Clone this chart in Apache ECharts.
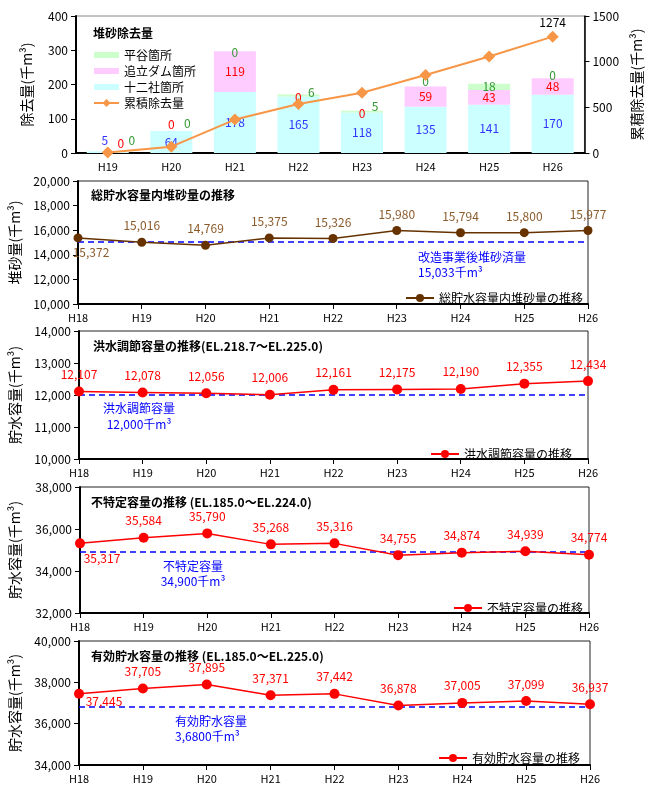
<!DOCTYPE html>
<html><head><meta charset="utf-8">
<script src="https://cdn.jsdelivr.net/npm/echarts@6/dist/echarts.min.js"></script>
<style>html,body{margin:0;padding:0;background:#fff}#c{width:652px;height:795px}</style>
</head><body><div id="c"></div>
<script>
// ---- data ----
const barYears = ['H19','H20','H21','H22','H23','H24','H25','H26'];
const juniso = [5,64,178,165,118,135,141,170];      // 十二社箇所
const oidachi = [0,0,119,0,0,59,43,48];             // 追立ダム箇所
const hiratani = [0,0,0,6,5,0,18,0];                // 平谷箇所
const cumulative = [5,69,366,537,660,854,1056,1274];// 累積除去量
const years = ['H18','H19','H20','H21','H22','H23','H24','H25','H26'];
const sediment = [15372,15016,14769,15375,15326,15980,15794,15800,15977];
const floodCap = [12107,12078,12056,12006,12161,12175,12190,12355,12434];
const unspecCap = [35317,35584,35790,35268,35316,34755,34874,34939,34774];
const effectiveCap = [37445,37705,37895,37371,37442,36878,37005,37099,36937];
const refValues = [15033, 12000, 34900, 36800];
const axisRanges = [[0,400,100],[0,1500,500],[10000,20000,2000],[10000,14000,1000],[32000,38000,2000],[34000,40000,2000]];

const JP = '"Noto Sans CJK JP", "Noto Sans", sans-serif';
const fmt = v => Number(v).toLocaleString('en-US');
const chart = echarts.init(document.getElementById('c'));

// label styling per bar item (style only)
const pinkLab = [{position:'top',offset:[13,3]},{position:'top',offset:[0,4]},null,{position:'top',offset:[0,12]},{position:'top',offset:[0,12]},null,null,null];
const greenLab = [{position:'top',offset:[24,0]},{position:'top',offset:[16,3]},{position:'top',offset:[0,12]},{position:'top',offset:[13,9]},{position:'top',offset:[13,7]},{position:'top',offset:[0,6]},null,{position:'top',offset:[0,8]}];
const cyanLab = [{position:'top',offset:[-3,0]},null,null,null,null,null,null,null];
function items(vals, labs){ return vals.map((v,i)=> labs[i] ? {value:v, label:labs[i]} : v); }

const grids = [
  {left:76, top:16, width:512, height:137},
  {left:74, top:181, width:514, height:123},
  {left:76, top:331, width:512, height:128},
  {left:74, top:487, width:515, height:126},
  {left:73, top:641, width:517, height:124}
];
grids.forEach((g,i)=>{ g.show=true; g.borderColor = i===0 ? '#888' : '#222'; g.borderWidth=1; });

const axisLab = {color:'#000', fontSize:11, fontFamily:JP};
const xAxes = [{gridIndex:0, type:'category', data:barYears, boundaryGap:true,
  axisLine:{lineStyle:{color:'#000',width:2}}, axisTick:{lineStyle:{color:'#000'}}, axisLabel:axisLab}];
for (let i=1;i<5;i++) xAxes.push({gridIndex:i, type:'category', data:years, boundaryGap:false,
  axisLine:{lineStyle:{color:'#000',width:2}}, axisTick:{alignWithLabel:true,lineStyle:{color:'#000'}}, axisLabel:axisLab});

function yAx(grid, r, name, gap, pos){
  return {gridIndex:grid, type:'value', min:r[0], max:r[1], interval:r[2], position:pos||'left',
    axisLine:{show:true, lineStyle:{color:'#000', width:2}}, axisTick:{show:true, lineStyle:{color:'#000'}},
    splitLine:{show:false},
    axisLabel:{color:'#000', fontSize:12, fontFamily:JP, formatter: v=> r[1]>=10000 ? fmt(v) : String(v)},
    name:name, nameLocation:'middle', nameRotate:90, nameGap:gap,
    nameTextStyle:{color:'#000', fontSize:14, fontFamily:JP}};
}
const yAxes = [
  yAx(0, axisRanges[0], '除去量(千m³)', 42),
  yAx(0, axisRanges[1], '累積除去量(千m³)', 40, 'right'),
  yAx(1, axisRanges[2], '堆砂量(千m³)', 56),
  yAx(2, axisRanges[3], '貯水容量(千m³)', 57),
  yAx(3, axisRanges[4], '貯水容量(千m³)', 58),
  yAx(4, axisRanges[5], '貯水容量(千m³)', 57)
];
yAxes[1].axisLine.lineStyle.width = 1.5;

function refLine(v){
  return {silent:true, symbol:'none', label:{show:false},
    lineStyle:{color:'#0000FF', type:[6,4], width:1.5}, data:[{yAxis:v}]};
}
function lineSeries(name, idx, data, color, labColor, ref, firstLab){
  const d = data.map((v,i)=> (i===0 && firstLab) ? {value:v, label:firstLab} : v);
  return {name, type:'line', xAxisIndex:idx, yAxisIndex:idx+1, data:d,
    symbol:'circle', symbolSize: idx===1 ? 9 : 10,
    lineStyle:{color, width:1.5}, itemStyle:{color},
    label:{show:true, position:'top', distance:6, color:labColor, fontSize:12, fontFamily:JP, formatter:p=>fmt(p.value)},
    markLine: refLine(ref), z:5};
}

const series = [
  {name:'十二社箇所', type:'bar', stack:'s', xAxisIndex:0, yAxisIndex:0, barWidth:42, data:items(juniso,cyanLab),
   itemStyle:{color:'#CCFFFF'}, label:{show:true, position:'inside', color:'#3333FF', fontSize:12, fontFamily:JP}},
  {name:'追立ダム箇所', type:'bar', stack:'s', xAxisIndex:0, yAxisIndex:0, barWidth:42, data:items(oidachi,pinkLab),
   itemStyle:{color:'#FFCCFF'}, label:{show:true, position:'inside', color:'#FF0000', fontSize:12, fontFamily:JP}},
  {name:'平谷箇所', type:'bar', stack:'s', xAxisIndex:0, yAxisIndex:0, barWidth:42, data:items(hiratani,greenLab),
   itemStyle:{color:'#CCFFCC'}, label:{show:true, position:'inside', color:'#339933', fontSize:12, fontFamily:JP}},
  {name:'累積除去量', type:'line', xAxisIndex:0, yAxisIndex:1, data:cumulative.map((v,i)=> i===cumulative.length-1 ? {value:v, label:{show:true}} : v),
   symbol:'diamond', symbolSize:12, lineStyle:{color:'#F79646', width:2}, itemStyle:{color:'#F79646'},
   label:{show:false, position:'top', distance:2, color:'#000', fontSize:12, fontFamily:JP}, z:5},
  lineSeries('総貯水容量内堆砂量の推移', 1, sediment, '#663300', '#8B5A2B', refValues[0], {position:'bottom', offset:[13,-2]}),
  lineSeries('洪水調節容量の推移', 2, floodCap, '#FF0000', '#FF0000', refValues[1]),
  lineSeries('不特定容量の推移', 3, unspecCap, '#FF0000', '#FF0000', refValues[2], {position:'bottom', offset:[22,-2]}),
  lineSeries('有効貯水容量の推移', 4, effectiveCap, '#FF0000', '#FF0000', refValues[3], {position:'bottom', offset:[25,-9]})
];

const legTxt = {color:'#000', fontSize:12, fontFamily:JP};
const legend = [
  {left:88, top:44, orient:'vertical', itemGap:4, itemWidth:25, itemHeight:10, textStyle:legTxt,
   data:[{name:'平谷箇所', icon:'path://M0,0h25v6h-25z'},{name:'追立ダム箇所', icon:'path://M0,0h25v6h-25z'},{name:'十二社箇所', icon:'path://M0,0h25v6h-25z'},'累積除去量']},
  {left:400, top:287, itemWidth:28, itemHeight:10, textStyle:legTxt, data:['総貯水容量内堆砂量の推移']},
  {left:425, top:443, itemWidth:28, itemHeight:10, textStyle:legTxt, data:['洪水調節容量の推移']},
  {left:448, top:597, itemWidth:28, itemHeight:10, textStyle:legTxt, data:['不特定容量の推移']},
  {left:433, top:747, itemWidth:28, itemHeight:10, textStyle:legTxt, data:['有効貯水容量の推移']}
];

const tStyle = {color:'#000', fontSize:12, fontWeight:'bold', fontFamily:JP};
const title = [
  {text:'堆砂除去量', left:88, top:22, textStyle:tStyle},
  {text:'総貯水容量内堆砂量の推移', left:86, top:184, textStyle:tStyle},
  {text:'洪水調節容量の推移(EL.218.7～EL.225.0)', left:88, top:335, textStyle:tStyle},
  {text:'不特定容量の推移 (EL.185.0～EL.224.0)', left:86, top:491, textStyle:tStyle},
  {text:'有効貯水容量の推移 (EL.185.0～EL.225.0)', left:86, top:645, textStyle:tStyle}
];

function note(text, x, y, align){
  return {type:'text', x, y, style:{text, fill:'#0000FF', font:'12px '+JP, textAlign:align||'left', textVerticalAlign:'middle'}, z:10};
}
const graphic = [
  note('改造事業後堆砂済量', 418, 257),
  note('15,033千m³', 418, 272),
  note('洪水調節容量', 139, 408, 'center'),
  note('12,000千m³', 139, 424, 'center'),
  note('不特定容量', 193, 566, 'center'),
  note('34,900千m³', 193, 581, 'center'),
  note('有効貯水容量', 175, 721),
  note('3,6800千m³', 175, 736)
];

chart.setOption({animation:false, backgroundColor:'#fff', grid:grids, xAxis:xAxes, yAxis:yAxes, series, legend, title, graphic});
</script></body></html>
